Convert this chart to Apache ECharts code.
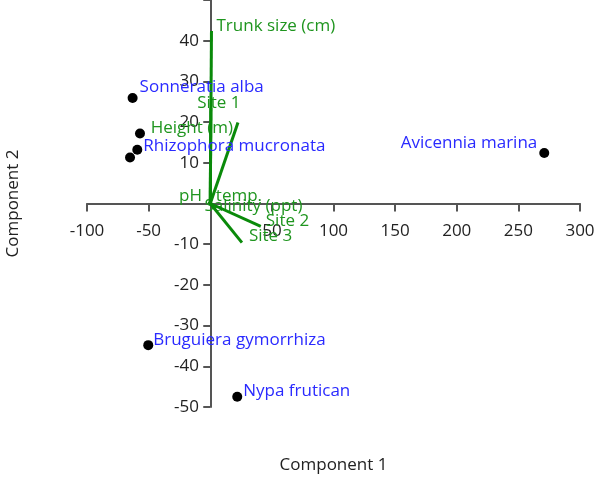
<!DOCTYPE html>
<html>
<head>
<meta charset="utf-8">
<script src="https://cdn.jsdelivr.net/npm/echarts@6/dist/echarts.min.js"></script>
<style>html,body{margin:0;padding:0;background:#fff}#c{width:598px;height:480px}</style>
</head>
<body>
<div id="c"></div>
<script>
// Species scores (black points)
var speciesNames = ['Sonneratia alba', '', 'Rhizophora mucronata', '', 'Avicennia marina', 'Bruguiera gymorrhiza', 'Nypa frutican'];
var speciesX = [-63, -57, -59.2, -65.1, 271, -50.3, 21.9];
var speciesY = [25.9, 17.2, 13.2, 11.3, 12.4, -34.8, -47.5];

// Variable loadings (green vectors)
var varNames = ['Trunk size (cm)', 'Site 1', 'Height (m)', 'pH', 'temp.', 'Salinity (ppt)', 'Site 2', 'Site 3'];
var varX = [1, 0.5, 22.5, -1, 0.5, 1, 41, 25.7];
var varY = [42.4, 23.5, 19.9, 0.5, 0.5, -0.5, -5.6, -9.6];

// Axis ticks
var xMin = -100, xMax = 300, xStep = 50;
var yMin = -50, yMax = 50, yStep = 10;

// label placement styles (not data)
var speciesLabelStyle = {
  'Sonneratia alba': {position: 'right', offset: [-3, -11]},
  'Rhizophora mucronata': {position: 'right', offset: [-4, -4]},
  'Avicennia marina': {position: 'left', offset: [3, -10]},
  'Bruguiera gymorrhiza': {position: 'right', offset: [-5, -5]},
  'Nypa frutican': {position: 'right', offset: [-4, -6]}
};
var varLabelStyle = {
  'Trunk size (cm)': {position: 'right', offset: [0, -5]},
  'Site 1': {position: 'inside', offset: [8, -5]},
  'Height (m)': {position: 'left', offset: [0, 6]},
  'pH': {position: 'left', offset: [-2, -5]},
  'temp.': {position: 'right', offset: [0, -5]},
  'Salinity (ppt)': {position: 'right', offset: [-12, 1]},
  'Site 2': {position: 'right', offset: [0, -5]},
  'Site 3': {position: 'right', offset: [2, -6]}
};

var FONT = 'Open Sans';
var FS = 17;

var speciesData = speciesNames.map(function (n, i) {
  var st = speciesLabelStyle[n];
  return {
    name: n,
    value: [speciesX[i], speciesY[i]],
    label: st ? {show: true, position: st.position, offset: st.offset, formatter: n} : {show: false}
  };
});

var vecLines = varNames.map(function (n, i) {
  return {name: n, coords: [[0, 0], [varX[i], varY[i]]]};
});
var vecEnds = varNames.map(function (n, i) {
  var st = varLabelStyle[n];
  return {
    name: n,
    value: [varX[i], varY[i]],
    label: {show: true, position: st.position, offset: st.offset, formatter: n}
  };
});

var chart = echarts.init(document.getElementById('c'), null, {renderer: 'canvas'});
chart.setOption({
  animation: false,
  backgroundColor: '#ffffff',
  textStyle: {fontFamily: FONT},
  grid: {left: 87, right: 18, top: 0, bottom: 73, containLabel: false, outerBoundsMode: 'none'},
  xAxis: {
    type: 'value', min: xMin, max: xMax, interval: xStep,
    name: 'Component 1', nameLocation: 'middle', nameGap: 50,
    nameTextStyle: {fontFamily: FONT, fontSize: FS, color: '#222'},
    axisLine: {onZero: true, lineStyle: {color: '#555', width: 2}},
    axisTick: {show: true, length: 8, lineStyle: {color: '#555', width: 2}},
    axisLabel: {fontFamily: FONT, fontSize: FS, color: '#222', margin: -184,
      formatter: function (v) { return v === 0 ? '' : String(v); }},
    splitLine: {show: false}
  },
  yAxis: {
    type: 'value', min: yMin, max: yMax, interval: yStep,
    name: 'Component 2', nameLocation: 'middle', nameGap: 65,
    nameTextStyle: {fontFamily: FONT, fontSize: FS, color: '#222'},
    axisLine: {onZero: true, lineStyle: {color: '#555', width: 2}},
    axisTick: {show: true, length: 7, lineStyle: {color: '#555', width: 2}},
    axisLabel: {fontFamily: FONT, fontSize: FS, color: '#222', margin: -112,
      formatter: function (v) { return (v === 0 || v === yMax) ? '' : String(v); }},
    splitLine: {show: false}
  },
  series: [
    {
      type: 'scatter', z: 3, symbolSize: 0, silent: true,
      itemStyle: {opacity: 1},
      label: {fontFamily: FONT, fontSize: FS, color: '#1f951f', distance: 5},
      data: vecEnds
    },
    {
      type: 'lines', coordinateSystem: 'cartesian2d', z: 4, silent: true,
      polyline: false,
      lineStyle: {color: '#0a8a0a', width: 3, opacity: 1, curveness: 0},
      data: vecLines
    },
    {
      type: 'scatter', z: 5, symbol: 'circle', symbolSize: 10,
      itemStyle: {color: '#000000', opacity: 1},
      label: {fontFamily: FONT, fontSize: FS, color: '#2a2aff', distance: 5},
      data: speciesData
    }
  ]
});
</script>
</body>
</html>
